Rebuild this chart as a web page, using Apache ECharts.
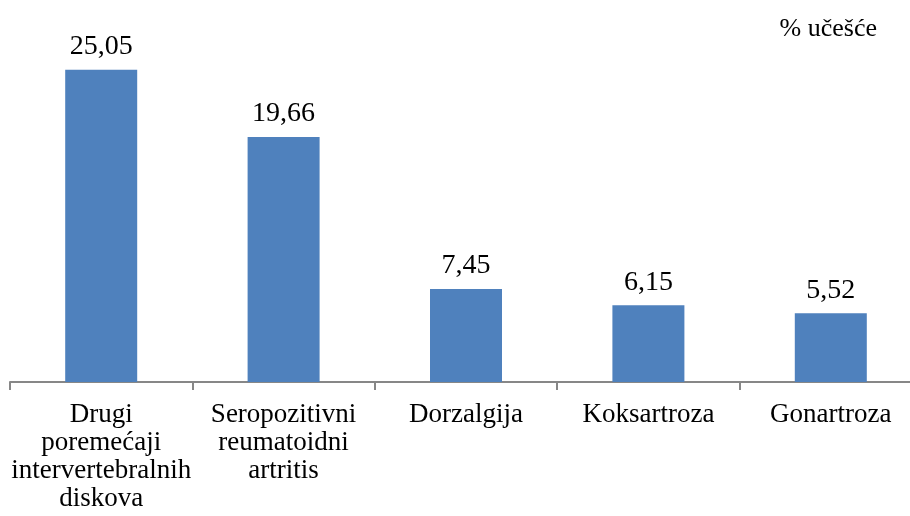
<!DOCTYPE html>
<html>
<head>
<meta charset="utf-8">
<style>
  html, body { margin: 0; padding: 0; background: #fff; }
  #chart { width: 910px; height: 516px; }
</style>
<script src="https://cdn.jsdelivr.net/npm/echarts@6/dist/echarts.min.js"></script>
</head>
<body>
<div id="chart"></div>
<script>
// kategorije i vrijednosti (% učešće)
var categories = [
    'Drugi\nporemećaji\nintervertebralnih\ndiskova',
    'Seropozitivni\nreumatoidni\nartritis',
    'Dorzalgija',
    'Koksartroza',
    'Gonartroza'
];
var values = [25.05, 19.66, 7.45, 6.15, 5.52];

var fontFam = '"Liberation Serif", "Times New Roman", serif';

var myChart = echarts.init(document.getElementById('chart'));

var option = {
    animation: false,
    title: {
        text: '% učešće',
        right: 28,
        top: 11,
        textStyle: { fontFamily: fontFam, fontSize: 26, fontWeight: 'normal', color: '#000' }
    },
    grid: { left: 10, width: 912, top: 8, bottom: 134, outerBoundsMode: 'none' },
    xAxis: {
        type: 'category',
        data: categories,
        axisLine: { lineStyle: { color: '#878787', width: 2 } },
        axisTick: { show: true, length: 8, lineStyle: { color: '#878787', width: 2 } },
        axisLabel: {
            interval: 0,
            margin: 19,
            fontFamily: fontFam,
            fontSize: 27,
            lineHeight: 28,
            color: '#000'
        }
    },
    yAxis: {
        type: 'value',
        min: 0,
        max: 30,
        show: false,
        splitLine: { show: false }
    },
    series: [{
        type: 'bar',
        data: values,
        barWidth: 72,
        itemStyle: { color: '#4F81BD' },
        label: {
            show: true,
            position: 'top',
            distance: 9,
            fontFamily: fontFam,
            fontSize: 28,
            color: '#000',
            formatter: function (p) { return p.value.toFixed(2).replace('.', ','); }
        }
    }]
};

myChart.setOption(option);
</script>
</body>
</html>
